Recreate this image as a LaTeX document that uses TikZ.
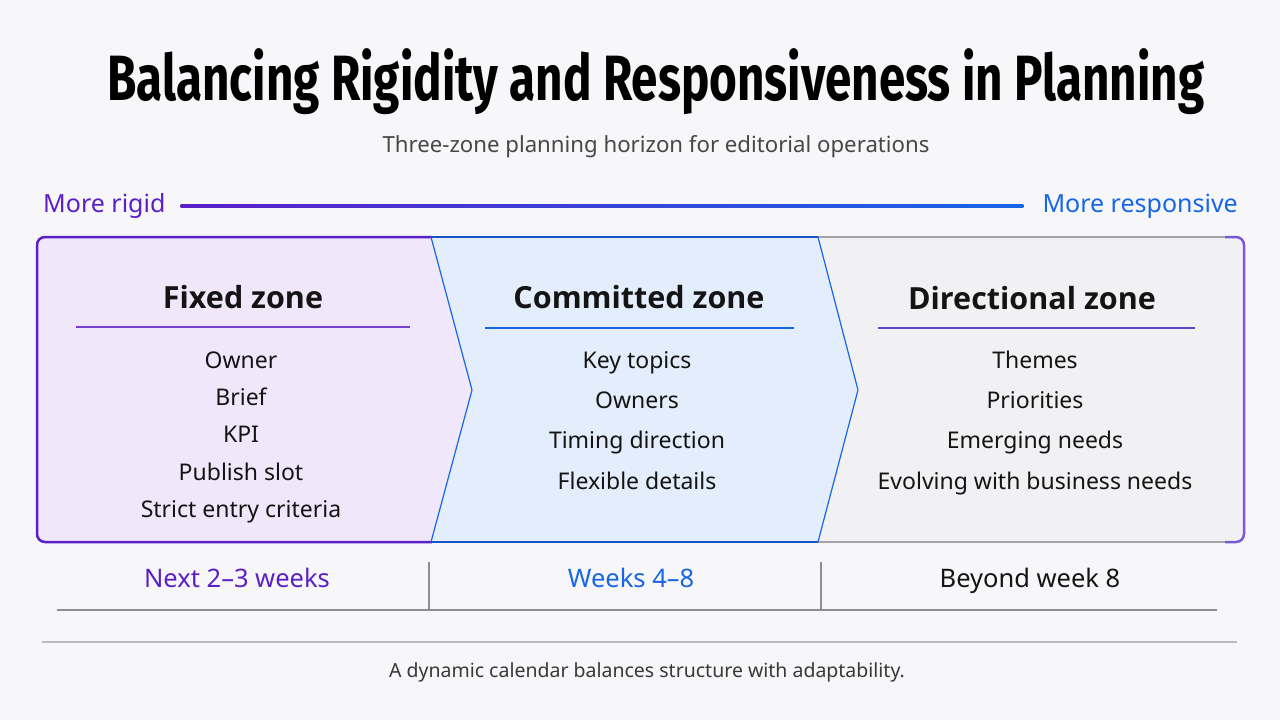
\documentclass[tikz,border=0pt]{standalone}
\usepackage{fontspec}
\setmainfont{Noto Sans}
\newfontfamily\titlefont{Fira Sans}
\newfontfamily\headfont{Open Sans}
\usepackage{tikz}
\usetikzlibrary{positioning}
\usetikzlibrary{calc}

\definecolor{page}{HTML}{F7F7FA}
\definecolor{rigidc}{HTML}{5B1FC8}
\definecolor{respc}{HTML}{1766E6}
\definecolor{fixbg}{HTML}{F0E7FB}
\definecolor{combg}{HTML}{E3EDFB}
\definecolor{dirbg}{HTML}{F1F1F4}
\definecolor{ink}{HTML}{141414}
\definecolor{greyline}{HTML}{8C8C94}
\definecolor{dirline}{HTML}{5A48D2}
\definecolor{edgec}{HTML}{7A58DA}

\tikzset{
    zonehead/.style={font=\headfont\bfseries\fontsize{30.5}{34}\selectfont, text=ink, inner sep=0pt},
    zoneitem/.style={font=\fontsize{23}{28}\selectfont, text=ink, inner sep=0pt,
                     text height=17pt, text depth=5pt},
    horizon/.style={font=\fontsize{25.5}{30}\selectfont, inner sep=0pt, anchor=base},
    scalelabel/.style={font=\fontsize{25}{28}\selectfont, inner sep=0pt},
    chevron/.style={respc, line width=1.2pt, line join=miter},
}

\begin{document}
\begin{tikzpicture}[x=1pt, y=-1pt]
    \fill[page] (0,0) rectangle (1280,720);
    \useasboundingbox (0,0) rectangle (1280,720);

    \node (title) at (656,82)
        {\titlefont\bfseries\fontsize{64}{70}\selectfont\resizebox{1097pt}{\height}{Balancing Rigidity and Responsiveness in Planning}};
    \node (sub) at (656,147) [font=\fontsize{22.2}{26}\selectfont, text=black!72]
        {Three-zone planning horizon for editorial operations};

    \node (rigid) [scalelabel, text=rigidc, anchor=west] at (43,206) {More rigid};
    \node (resp) [scalelabel, text=respc, anchor=east] at (1238,206) {More responsive};
    \shade[left color=rigidc, right color=respc]
        ($(rigid.east)+(15,-1.2)$) rectangle ($(resp.west)+(-19,1.2)$);

    \fill[fixbg] (432,237) [rounded corners=8pt] -- (37,237) -- (37,542) [sharp corners] -- (432,542) -- (472,390) -- cycle;
    \fill[combg] (432,237) -- (818,237) -- (858,390) -- (818,542) -- (432,542) -- (472,390) -- cycle;
    \fill[dirbg] (818,237) [rounded corners=8pt] -- (1244,237) -- (1244,542) [sharp corners] -- (818,542) -- (858,390) -- cycle;

    \draw[rigidc, line width=2.5pt, rounded corners=8pt] (432,237) -- (37,237) -- (37,542) -- (432,542);
    \draw[respc!85!black, line width=2pt] (432,237) -- (818,237) (432,542) -- (818,542);
    \draw[greyline!80, line width=2pt] (818,237) -- (1225,237) (818,542) -- (1225,542);
    \draw[edgec, line width=2.5pt, rounded corners=8pt] (1225,237) -- (1244,237) -- (1244,542) -- (1225,542);
    \draw[chevron] (431,237) -- (472,390) -- (431,542);
    \draw[chevron] (818,237) -- (858,390) -- (818,542);

    \node (fixh) [zonehead] at (243,297) {Fixed zone};
    \draw[rigidc!85, line width=1.5pt] (76,327) -- (410,327);
    \node (fix1) [zoneitem] at (241,362) {Owner};
    \node (fix2) [zoneitem, below=15pt of fix1] {Brief};
    \node (fix3) [zoneitem, below=15pt of fix2] {KPI};
    \node (fix4) [zoneitem, below=15pt of fix3] {Publish slot};
    \node (fix5) [zoneitem, below=15pt of fix4] {Strict entry criteria};

    \node (comh) [zonehead] at (639,297) {Committed zone};
    \draw[respc, line width=1.5pt] (485,328) -- (794,328);
    \node (com1) [zoneitem] at (637,362) {Key topics};
    \node (com2) [zoneitem, below=18pt of com1] {Owners};
    \node (com3) [zoneitem, below=18pt of com2] {Timing direction};
    \node (com4) [zoneitem, below=18pt of com3] {Flexible details};

    \node (dirh) [zonehead] at (1032,298) {Directional zone};
    \draw[dirline, line width=1.5pt] (878,328) -- (1195,328);
    \node (dir1) [zoneitem] at (1035,362) {Themes};
    \node (dir2) [zoneitem, below=18pt of dir1] {Priorities};
    \node (dir3) [zoneitem, below=18pt of dir2] {Emerging needs};
    \node (dir4) [zoneitem, below=18pt of dir3] {Evolving with business needs};

    \node (wk1) [horizon, text=rigidc] at (237,587) {Next 2--3 weeks};
    \node (wk2) [horizon, text=respc] at (631,587) {Weeks 4--8};
    \node (wk3) [horizon, text=ink] at (1030,587) {Beyond week 8};
    \draw[greyline, line width=1.2pt] (429,562) -- (429,610) (821,562) -- (821,610);
    \draw[greyline, line width=1.8pt] (57,610) -- (1217,610);
    \draw[greyline!60, line width=1.5pt] (42,642) -- (1237,642);

    \node (foot) at (647,672) [font=\fontsize{19.5}{24}\selectfont, text=black!78]
        {A dynamic calendar balances structure with adaptability.};
\end{tikzpicture}
\end{document}
